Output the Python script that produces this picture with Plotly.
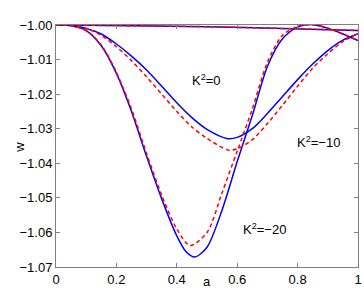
import plotly.graph_objects as go

# K^2 = -20
a_b20 = [0, 0.05, 0.1, 0.15, 0.2, 0.25, 0.3, 0.35, 0.4, 0.43, 0.46, 0.5, 0.55, 0.6, 0.65, 0.7, 0.75, 0.8, 0.85, 0.9, 0.95, 1.0]
w_b20 = [-1.0000, -1.0002, -1.0016, -1.0060, -1.0140, -1.0250, -1.0380, -1.0503, -1.0610, -1.0655, -1.0671, -1.0643, -1.0535, -1.0395, -1.0262, -1.0120, -1.0040, -1.0006, -0.9999, -1.0009, -1.0026, -1.0045]
a_r20 = [0, 0.05, 0.1, 0.15, 0.2, 0.25, 0.3, 0.35, 0.4, 0.444, 0.5, 0.55, 0.6, 0.65, 0.7, 0.75, 0.8, 0.85, 0.9, 0.95, 1.0]
w_r20 = [-1.0000, -1.0002, -1.0016, -1.0058, -1.0137, -1.0243, -1.0372, -1.0492, -1.0590, -1.0638, -1.0600, -1.0485, -1.0365, -1.0243, -1.0108, -1.0030, -1.0004, -0.9999, -1.0009, -1.0026, -1.0045]

# K^2 = -10
a_b10 = [0, 0.05, 0.1, 0.15, 0.2, 0.25, 0.3, 0.35, 0.4, 0.45, 0.5, 0.565, 0.6, 0.65, 0.7, 0.75, 0.8, 0.85, 0.9, 0.95, 1.0]
w_b10 = [-1.0000, -1.0001, -1.0010, -1.0026, -1.0055, -1.0090, -1.0130, -1.0177, -1.0225, -1.0268, -1.0302, -1.0328, -1.0325, -1.0300, -1.0256, -1.0207, -1.0158, -1.0113, -1.0074, -1.0044, -1.0025]
a_r10 = [0, 0.05, 0.1, 0.15, 0.2, 0.25, 0.3, 0.35, 0.4, 0.45, 0.5, 0.571, 0.6, 0.65, 0.7, 0.75, 0.8, 0.85, 0.9, 0.95, 1.0]
w_r10 = [-1.0000, -1.0001, -1.0010, -1.0030, -1.0063, -1.0103, -1.0150, -1.0200, -1.0250, -1.0295, -1.0328, -1.0362, -1.0358, -1.0332, -1.0285, -1.0232, -1.0177, -1.0125, -1.0083, -1.0048, -1.0025]

# K^2 = 0
a_0 = [0, 0.25, 0.5, 0.75, 1.0]
w_b0 = [-1.0000, -1.0002, -1.0005, -1.0010, -1.0016]
w_r0 = [-1.0000, -1.0002, -1.0005, -1.0010, -1.0016]

x_ticks = [0, 0.2, 0.4, 0.6, 0.8, 1.0]
x_ticklabels = ["0", "0.2", "0.4", "0.6", "0.8", "1"]
y_ticks = [-1.07, -1.06, -1.05, -1.04, -1.03, -1.02, -1.01, -1.00]

labels = ["K<sup>2</sup>=0", "K<sup>2</sup>=\u221210", "K<sup>2</sup>=\u221220"]
label_x = [0.497, 0.868, 0.69]
label_y = [-1.0159, -1.0339, -1.0591]

BLUE = "#0000ff"
RED = "#ff0000"
FONT = "Liberation Sans, Arial, sans-serif"
FS = 13

fig = go.Figure()
for xs, ys in [(a_0, w_b0), (a_b10, w_b10), (a_b20, w_b20)]:
    fig.add_trace(go.Scatter(x=xs, y=ys, mode="lines", line=dict(color=BLUE, width=1.5, shape="spline", smoothing=0.8),
                             showlegend=False, hoverinfo="skip"))
for xs, ys in [(a_0, w_r0), (a_r10, w_r10), (a_r20, w_r20)]:
    fig.add_trace(go.Scatter(x=xs, y=ys, mode="lines", line=dict(color=RED, width=1.5, dash="4px,3px", shape="spline", smoothing=0.8),
                             showlegend=False, hoverinfo="skip"))

for t, x, y in zip(labels, label_x, label_y):
    fig.add_annotation(x=x, y=y, text=t, showarrow=False, font=dict(family=FONT, size=FS, color="black"))

# axis titles
fig.add_annotation(xref="paper", yref="paper", x=(10 - 56) / 302, y=1 - (147 - 25) / 241.7, text="w",
                   textangle=-90, showarrow=False, font=dict(family=FONT, size=FS, color="black"))
fig.add_annotation(xref="paper", yref="paper", x=0.5, y=-(291 - 266.7) / 241.7, text="a",
                   showarrow=False, font=dict(family=FONT, size=FS, color="black"))

axis_common = dict(showline=True, linecolor="#808080", linewidth=1, mirror="ticks", ticks="inside", ticklen=4,
                   tickcolor="#808080", showgrid=False, zeroline=False, automargin=False,
                   tickfont=dict(family=FONT, size=FS, color="black"))
fig.update_xaxes(range=[0, 1], tickvals=x_ticks, ticktext=x_ticklabels, **axis_common)
fig.update_yaxes(range=[-1.07, -1.00], tickvals=y_ticks, tickformat=".2f", **axis_common)

fig.update_layout(width=364, height=300, margin=dict(l=56, r=6, t=25, b=33.3),
                  plot_bgcolor="white", paper_bgcolor="white", font=dict(family=FONT))
fig.write_html("out.html", config={"displayModeBar": False},
               post_script="document.body.style.margin='0';document.body.style.overflow='hidden';")
